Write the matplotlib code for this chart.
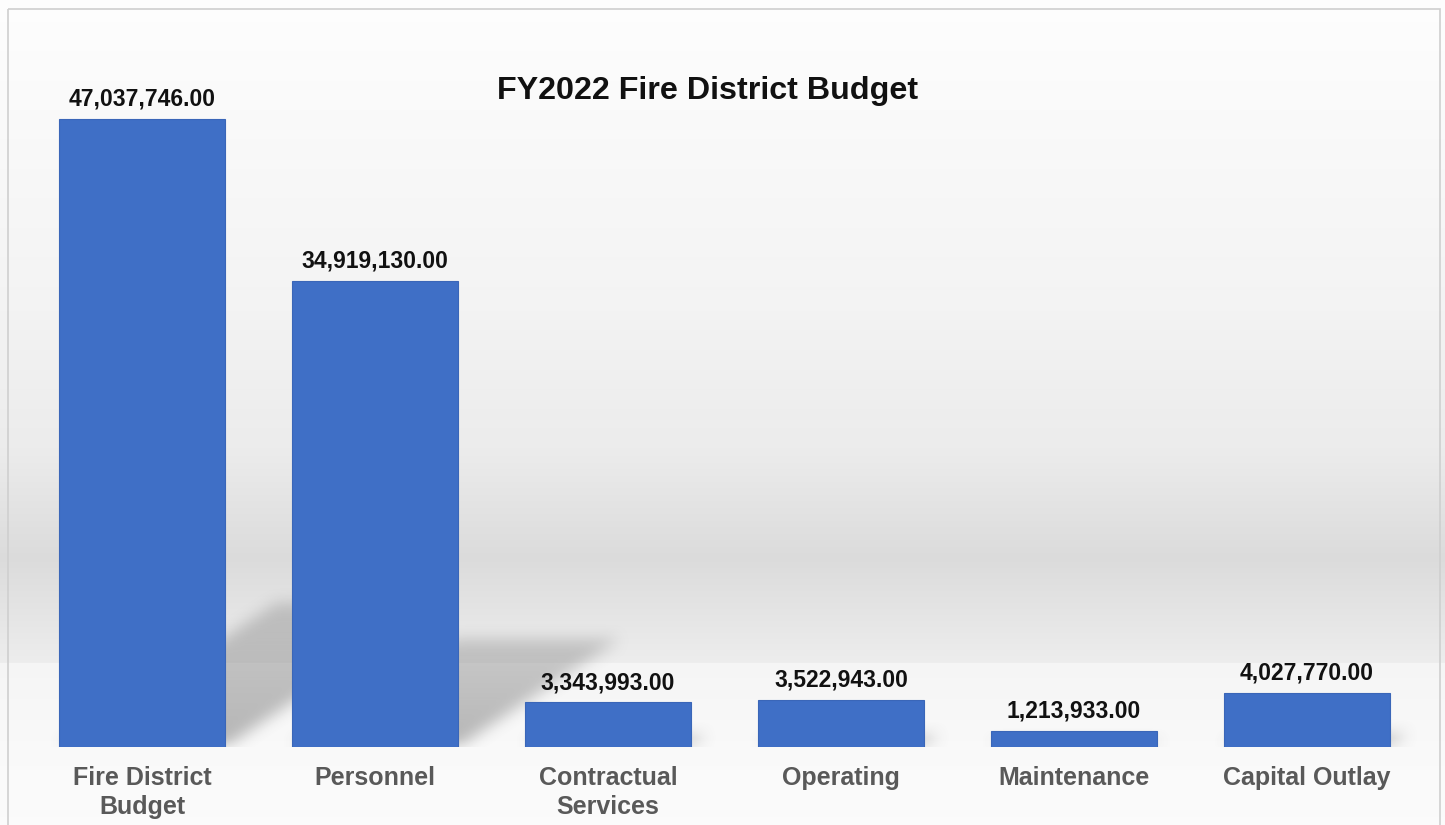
import numpy as np
import matplotlib
matplotlib.use("Agg")
import matplotlib.pyplot as plt
from matplotlib.patches import Rectangle

# ---- data ----
categories = ["Fire District\nBudget", "Personnel", "Contractual\nServices",
              "Operating", "Maintenance", "Capital Outlay"]
values = [47037746.00, 34919130.00, 3343993.00, 3522943.00, 1213933.00, 4027770.00]
title = "FY2022 Fire District Budget"

plt.rcParams['font.family'] = ['Liberation Sans', 'DejaVu Sans']

W, H = 1445, 825
fig = plt.figure(figsize=(W / 100, H / 100), dpi=100)
fig.patch.set_facecolor("white")

# ---- background (wall gradient + floor) ----
bg = fig.add_axes([0, 0, 1, 1], zorder=0)
bg.set_axis_off()
rows = np.arange(H)
stops_y = [0, 150, 300, 450, 557, 640, 662, 663, 760, 825]
stops_v = [0.995, 0.975, 0.955, 0.925, 0.86, 0.915, 0.93, 0.962, 0.98, 0.985]
col = np.interp(rows, stops_y, stops_v)
img = np.repeat(col[:, None], 4, axis=1)
bg.imshow(np.dstack([img, img, img]), aspect='auto', extent=(0, W, H, 0),
          interpolation='bilinear')
bg.set_xlim(0, W)
bg.set_ylim(H, 0)
bg.add_patch(Rectangle((8, 9), 1432, 830, fill=False, edgecolor="#cfcfcf", lw=1.2))

# ---- main axes ----
ax = fig.add_axes([25.5 / W, 78 / H, 1398 / W, 707 / H], zorder=1)
ax.patch.set_alpha(0)
x = np.arange(len(values))
bw = 0.71
ymax = 52.96e6

# blurred cast shadows derived from bar geometry
nx, ny = 1400, 700
gx = np.linspace(-0.5, len(values) - 0.5, nx)
gy = np.linspace(0, ymax, ny)
GX, GY = np.meshgrid(gx, gy)
mask = np.zeros_like(GX)
for xi, v in zip(x, values):
    s = 0.0198e-6 * v
    t = 0.23 * v
    frac = np.clip(GY / t, 0, None)
    left = xi - bw / 2 + s * frac
    right = xi + bw / 2 + s * frac
    inside = (GY <= t) & (GX >= left) & (GX <= right)
    fade = 1 - 0.35 * frac
    mask = np.maximum(mask, inside * fade)

def blur(a, k, axis):
    ker = np.ones(k) / k
    return np.apply_along_axis(lambda m: np.convolve(m, ker, mode='same'), axis, a)

for _ in range(2):
    mask = blur(mask, 17, 1)
    mask = blur(mask, 17, 0)
shadow = np.zeros((ny, nx, 4))
shadow[..., :3] = 0.45
shadow[..., 3] = mask * 0.5
ax.imshow(shadow, origin='lower', aspect='auto',
          extent=(-0.5, len(values) - 0.5, 0, ymax), zorder=1, interpolation='bilinear')
ax.set_xlim(-0.5, len(values) - 0.5)
ax.set_ylim(0, ymax)

bars = ax.bar(x, values, width=bw, color="#3F6FC6", edgecolor="#3A66B8",
              linewidth=0.8, zorder=3)

for xi, v in zip(x, values):
    ax.annotate(f"{v:,.2f}", (xi, v), xytext=(0, 6), textcoords='offset points',
                ha='center', va='bottom', fontsize=16.5, fontweight='bold',
                color='#111111', zorder=4)

ax.set_xticks(x)
ax.set_xticklabels(categories, fontsize=18, fontweight='bold', color='#595959',
                   linespacing=1.25)
ax.tick_params(axis='x', length=0, pad=14)
ax.set_yticks([])
for sp in ax.spines.values():
    sp.set_visible(False)

fig.text(708 / W, 1 - 91 / H, title, ha='center', va='center',
         fontsize=23.2, fontweight='bold', color='#111111')

fig.savefig("out.png", dpi=100)
